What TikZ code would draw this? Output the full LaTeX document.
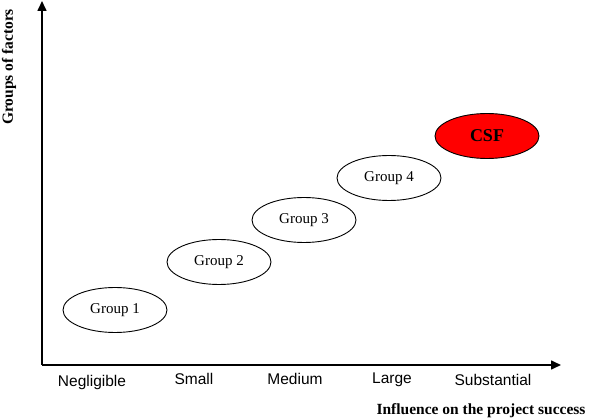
\documentclass[tikz,border=0pt]{standalone}
\usepackage{fontspec}
\setmainfont{Liberation Serif}
\setsansfont{Liberation Sans}
\usetikzlibrary{arrows.meta,positioning,shapes.geometric}

\begin{document}
\begin{tikzpicture}[x=1pt,y=-1pt,
    grp/.style={draw,ellipse,line width=.9pt,inner sep=0pt,minimum width=104pt,minimum height=45pt,font=\fontsize{15}{18}\selectfont},
    tick/.style={font=\sffamily\fontsize{15.5}{18}\selectfont},
    axlab/.style={font=\bfseries\fontsize{15.5}{18}\selectfont}]
    \useasboundingbox (0,0) rectangle (589,419);
    \coordinate (o) at (42,365);
    \coordinate (ytop) at (42,1);
    \coordinate (xend) at (561,365);
    \draw[line width=1.6pt,-{Triangle[length=10pt,width=9pt]}] (o) -- (ytop);
    \draw[line width=1.6pt,-{Triangle[length=10pt,width=9pt]}] (o) -- (xend);

    \node[grp] (g1) at (115,310) {Group 1};
    \node[grp] (g2) at (219,262) {Group 2};
    \node[grp] (g3) at (304,220) {Group 3};
    \node[grp] (g4) at (389,178) {Group 4};
    \node[grp,fill=red,font=\bfseries\fontsize{18}{20}\selectfont] (csf) at (487,136) {CSF};

    \foreach \i/\x/\y/\lab in {1/92/382/Negligible,2/194/379/Small,3/295/379/Medium,4/392/380/Large,5/493/380/Substantial}
    \node[tick] (t\i) at (\x,\y) {\lab};

    \node[axlab,anchor=east] (xlab) at (589,411) {Influence on the project success};
    \node[axlab,rotate=90] (ylab) at (9,67) {Groups of factors};
\end{tikzpicture}
\end{document}
